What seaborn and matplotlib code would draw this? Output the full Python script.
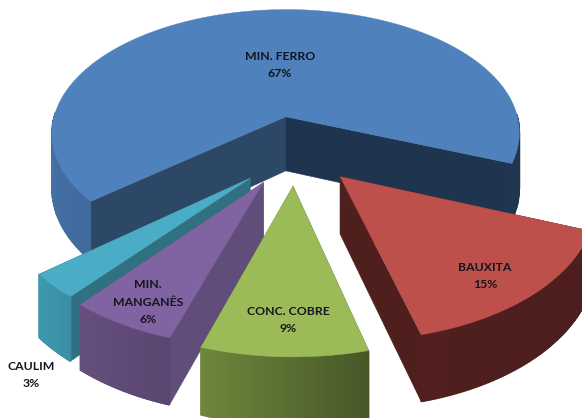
import numpy as np
import matplotlib
matplotlib.use("Agg")
import matplotlib.pyplot as plt
import seaborn as sns

# dados do grafico
labels = ["MIN. FERRO", "BAUXITA", "CONC. COBRE", "MIN.\nMANGANÊS", "CAULIM"]
values = [67, 15, 9, 6, 3]

top_colors = ["#4F81BD", "#BE504C", "#9BBB59", "#8064A2", "#4BACC6"]
# cor da borda: (lado direito, lado esquerdo)
rim_colors = [("#1F344E", "#4570A6"), ("#4C1E1D", "#501F1E"), ("#465727", "#6E873C"),
              ("#5A4670", "#654F7E"), ("#3A8EA5", "#3F98AF")]
cut_colors = [("#2C4866", "#1F344E"), ("#4F1F1E", "#4F1F1E"), ("#5A6E34", "#5A6E34"),
              ("#614D79", "#614D79"), ("#317080", "#317080")]
label_pos = [(280, 65), (485, 276), (288, 320), (148, 302), (31, 375)]

# geometria da pizza 3D
START = 140.3
CX, CY = 292, 150
RX, RY = 245, 133
PERSP = 0.14
DEPTH = 56
EXPLODE = 0.27
# ajustes finos por fatia
slice_dx = [4, 3, 3, 4, 6]
slice_dy = [1, -1, -1, 0, 2]
slice_r = [0.98, 1.0, 1.015, 0.99, 0.97]

sns.set_theme(style="white")
plt.rcParams["font.family"] = ["Lato", "DejaVu Sans"]


def project(r, t, ox, oy, drop=0.0):
    x = r * np.cos(t) + ox
    y = r * np.sin(t) + oy
    w = 1 - PERSP * y
    return CX + RX * x / w, CY + (RY * y + drop) / w


def draw_slice(ax, a0, a1, top, rim, cut, dx, dy, rad):
    mid = (a0 + a1) / 2
    ox = EXPLODE * np.cos(mid) + dx / RX
    oy = EXPLODE * np.sin(mid) + dy / RY
    ts = np.linspace(a0, a1, 140)

    # faces internas do corte
    for t, c in zip((a0, a1), cut):
        xa, ya = project(0, t, ox, oy)
        xb, yb = project(rad, t, ox, oy)
        xc, yc = project(rad, t, ox, oy, DEPTH)
        xd, yd = project(0, t, ox, oy, DEPTH)
        ax.fill([xa, xb, xc, xd], [ya, yb, yc, yd], color=c, lw=0.4, zorder=1)

    # borda externa em faixas para dar o degrade
    c0 = np.array(matplotlib.colors.to_rgb(rim[0]))
    c1 = np.array(matplotlib.colors.to_rgb(rim[1]))
    tm = (ts[:-1] + ts[1:]) / 2
    vis = np.sin(tm) >= -0.02
    cmin, cmax = np.cos(tm[vis]).min(), np.cos(tm[vis]).max()
    for i in np.where(vis)[0]:
        f = (cmax - np.cos(tm[i])) / (cmax - cmin)
        xa, ya = project(rad, ts[i], ox, oy)
        xb, yb = project(rad, ts[i + 1], ox, oy)
        xc, yc = project(rad, ts[i + 1], ox, oy, DEPTH)
        xd, yd = project(rad, ts[i], ox, oy, DEPTH)
        ax.fill([xa, xb, xc, xd], [ya, yb, yc, yd], color=c0 + (c1 - c0) * f, lw=1.0, zorder=1)

    # tampo
    xs, ys = project(rad, ts, ox, oy)
    x0, y0 = project(0, a0, ox, oy)
    ax.fill(np.r_[x0, xs], np.r_[y0, ys], color=top, lw=0.3, zorder=1)


fig = plt.figure(figsize=(5.82, 4.18), dpi=100)
ax = fig.add_axes([0, 0, 1, 1])
ax.set_xlim(0, 582)
ax.set_ylim(418, 0)
ax.axis("off")

sweeps = np.radians(np.array(values) / sum(values) * 360)
starts = np.radians(START) + np.r_[0, np.cumsum(sweeps)[:-1]]

# ordem de pintura: de tras para frente
for i in [0, 1, 4, 3, 2]:
    draw_slice(ax, starts[i], starts[i] + sweeps[i], top_colors[i], rim_colors[i], cut_colors[i],
               slice_dx[i], slice_dy[i], slice_r[i])

for lab, val, (x, y) in zip(labels, values, label_pos):
    ax.text(x, y, f"{lab}\n{val}%", ha="center", va="center", fontsize=8.8,
            fontweight="bold", color="#14141E", linespacing=1.7, zorder=5)

fig.savefig("out.png", dpi=100)
